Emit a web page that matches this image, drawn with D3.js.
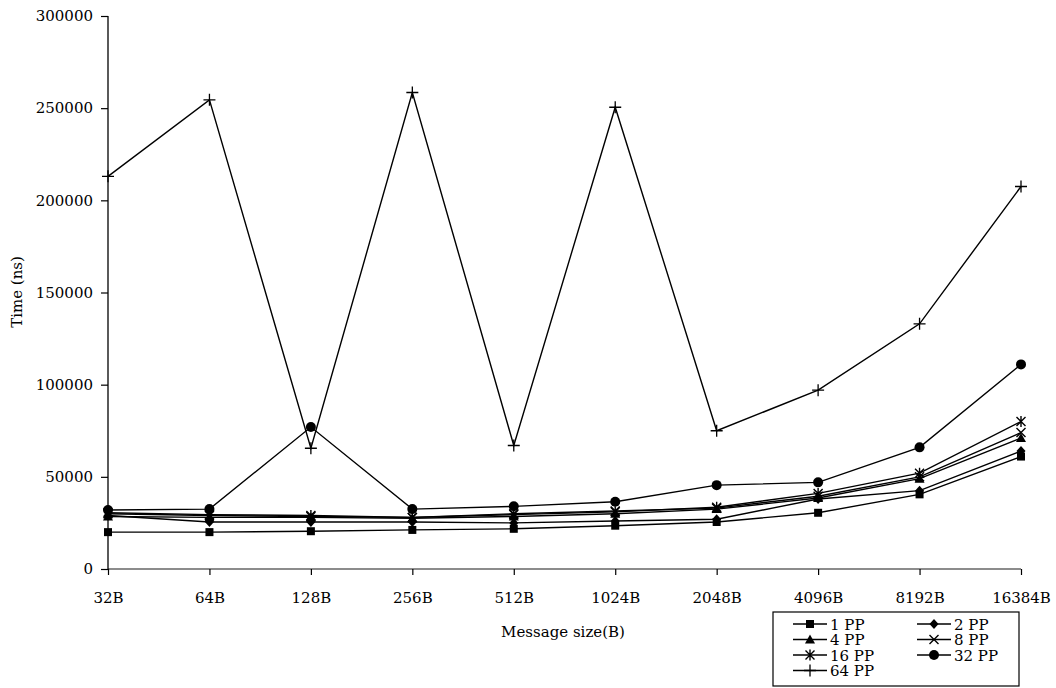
<!DOCTYPE html>
<html>
<head>
<meta charset="utf-8">
<script src="https://cdn.jsdelivr.net/npm/d3@7"></script>
<style>
  body { margin: 0; background: #fff; }
  text { font-family: "DejaVu Serif", serif; fill: #000; }
</style>
</head>
<body>
<svg id="chart" width="1056" height="688"></svg>
<script>
// Категории и значения
var sizes = ['32B', '64B', '128B', '256B', '512B', '1024B', '2048B', '4096B', '8192B', '16384B'];
var yTicks = [0, 50000, 100000, 150000, 200000, 250000, 300000];

var pp1  = [20000, 20000, 20500, 21200, 21800, 23500, 25500, 30500, 40500, 61000];
var pp2  = [29000, 25500, 25500, 25500, 25000, 26000, 27000, 38000, 42500, 64000];
var pp4  = [28500, 28000, 28000, 27500, 28500, 30000, 32500, 38500, 49000, 71000];
var pp8  = [30000, 29000, 28500, 28000, 30000, 31500, 33000, 39500, 50000, 74000];
var pp16 = [30500, 29500, 29000, 28000, 29500, 31000, 33500, 41000, 52000, 80000];
var pp32 = [32000, 32500, 77000, 32500, 34000, 36500, 45500, 47000, 66000, 111000];
var pp64 = [213000, 254500, 65500, 258500, 67000, 250500, 75000, 97000, 133000, 207500];

var series = [
    { name: '1 PP', values: pp1, marker: 'square' },
    { name: '2 PP', values: pp2, marker: 'diamond' },
    { name: '4 PP', values: pp4, marker: 'triangle' },
    { name: '8 PP', values: pp8, marker: 'x' },
    { name: '16 PP', values: pp16, marker: 'star' },
    { name: '32 PP', values: pp32, marker: 'circle' },
    { name: '64 PP', values: pp64, marker: 'plus' }
];

var svg = d3.select('#chart');
var mLeft = 108, mRight = 1021, mTop = 16, mBottom = 569;
var fontSize = '15px';

var x = d3.scalePoint().domain(sizes).range([mLeft, mRight]);
var y = d3.scaleLinear().domain([0, 300000]).range([mBottom, mTop]);

// Оси
var xAxis = svg.append('g')
    .attr('transform', `translate(0, ${mBottom})`)
    .call(d3.axisBottom(x).tickSize(6).tickPadding(17));
var yAxis = svg.append('g')
    .attr('transform', `translate(${mLeft}, 0)`)
    .call(d3.axisLeft(y).tickValues(yTicks).tickFormat(d3.format('d')).tickSize(7).tickPadding(8));

[xAxis, yAxis].forEach(function (a) {
    a.select('.domain').attr('stroke', '#000').attr('stroke-width', 1.3);
    a.selectAll('.tick line').attr('stroke', '#000').attr('stroke-width', 1.2);
    a.selectAll('.tick text').style('font-family', '"DejaVu Serif", serif').style('font-size', fontSize);
});
xAxis.select('.domain').attr('d', `M${mLeft},0H${mRight}`).attr('stroke', '#666').attr('stroke-width', 1.5);
yAxis.select('.domain').attr('d', `M0,${mTop}V${mBottom}`);

// Подписи осей
svg.append('text')
    .attr('x', 563).attr('y', 637)
    .attr('text-anchor', 'middle')
    .style('font-size', fontSize)
    .text('Message size(B)');
svg.append('text')
    .attr('transform', 'translate(22, 292) rotate(-90)')
    .attr('text-anchor', 'middle')
    .style('font-size', fontSize)
    .text('Time (ns)');

// Маркеры
function drawMarker(g, type) {
    var s = 4;
    switch (type) {
        case 'square':
            g.append('rect').attr('x', -s).attr('y', -s).attr('width', 2 * s).attr('height', 2 * s).attr('fill', '#000');
            break;
        case 'diamond':
            g.append('path').attr('d', 'M0,-5L4.5,0L0,5L-4.5,0Z').attr('fill', '#000');
            break;
        case 'triangle':
            g.append('path').attr('d', 'M0,-5L5,4L-5,4Z').attr('fill', '#000');
            break;
        case 'x':
            g.append('path').attr('d', 'M-4.5,-4.5L4.5,4.5M-4.5,4.5L4.5,-4.5').attr('stroke', '#000').attr('stroke-width', 1.4);
            break;
        case 'star':
            g.append('path').attr('d', 'M-4.5,-4.5L4.5,4.5M-4.5,4.5L4.5,-4.5M0,-5.5V5.5').attr('stroke', '#000').attr('stroke-width', 1.4);
            break;
        case 'circle':
            g.append('circle').attr('r', 5).attr('fill', '#000');
            break;
        case 'plus':
            g.append('path').attr('d', 'M-6,0H6M0,-6V6').attr('stroke', '#000').attr('stroke-width', 1.3);
            break;
    }
}

var line = d3.line()
    .x((d, i) => x(sizes[i]))
    .y(d => y(d));

series.forEach(function (s) {
    svg.append('path')
        .datum(s.values)
        .attr('d', line)
        .attr('fill', 'none')
        .attr('stroke', '#000')
        .attr('stroke-width', 1.4);
    s.values.forEach(function (v, i) {
        var g = svg.append('g').attr('transform', `translate(${x(sizes[i])}, ${y(v)})`);
        drawMarker(g, s.marker);
    });
});

// Легенда
var legend = svg.append('g');
legend.append('rect')
    .attr('x', 773).attr('y', 612)
    .attr('width', 246).attr('height', 74)
    .attr('fill', '#fff').attr('stroke', '#000').attr('stroke-width', 1.2);

series.forEach(function (s, i) {
    var col = i % 2, row = Math.floor(i / 2);
    var lx = 793 + col * 124, ly = 624 + row * 15.5;
    var g = legend.append('g');
    g.append('line')
        .attr('x1', lx).attr('x2', lx + 34)
        .attr('y1', ly).attr('y2', ly)
        .attr('stroke', '#000').attr('stroke-width', 1.4);
    drawMarker(g.append('g').attr('transform', `translate(${lx + 17}, ${ly})`), s.marker);
    g.append('text')
        .attr('x', lx + 37).attr('y', ly + 5.5)
        .style('font-size', fontSize)
        .text(s.name);
});
</script>
</body>
</html>
